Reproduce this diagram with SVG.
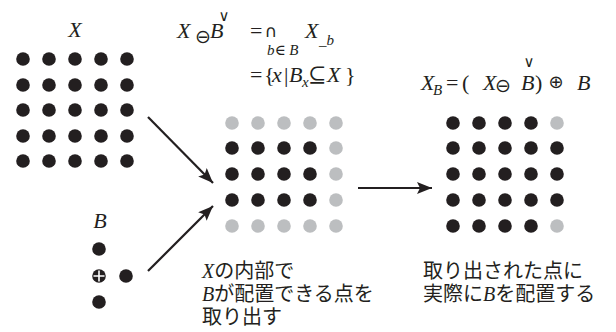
<svg xmlns="http://www.w3.org/2000/svg" width="616" height="332" viewBox="0 0 616 332">
<defs>
<style>
.k{fill:#231f20}
.g{fill:#bcbec0}
.m{font-family:"Liberation Serif","DejaVu Serif",serif;font-size:22px;fill:#231f20}
.i{font-style:italic}
.s{font-family:"Liberation Serif","DejaVu Serif",serif;font-size:15px;fill:#231f20}
.sym{font-family:"DejaVu Sans",sans-serif;fill:#231f20}
.jp{font-family:"Noto Sans CJK JP","Noto Sans",sans-serif;font-size:20px;fill:#231f20}
.jv{font-family:"Liberation Serif",serif;font-style:italic}
.ln{stroke:#231f20;stroke-width:2.2;fill:none}
</style>
<marker id="ah" markerUnits="userSpaceOnUse" markerWidth="16" markerHeight="12" refX="15" refY="6" orient="auto">
<path d="M0,0 L15,6 L0,12 L3,6 Z" fill="#231f20"/>
</marker>
<circle id="d" r="6.8"/>
</defs>
<rect width="616" height="332" fill="#ffffff"/>

<g id="X-label"><text class="m i" x="75" y="37" text-anchor="middle" font-size="19">X</text></g>

<g id="X-set" class="k">
<use href="#d" x="23" y="59"/><use href="#d" x="49" y="59"/><use href="#d" x="75" y="59"/><use href="#d" x="101" y="59"/><use href="#d" x="127" y="59"/>
<use href="#d" x="23" y="85"/><use href="#d" x="49" y="85"/><use href="#d" x="75" y="85"/><use href="#d" x="101" y="85"/><use href="#d" x="127" y="85"/>
<use href="#d" x="23" y="110"/><use href="#d" x="49" y="110"/><use href="#d" x="75" y="110"/><use href="#d" x="101" y="110"/><use href="#d" x="127" y="110"/>
<use href="#d" x="23" y="136"/><use href="#d" x="49" y="136"/><use href="#d" x="75" y="136"/><use href="#d" x="101" y="136"/><use href="#d" x="127" y="136"/>
<use href="#d" x="23" y="161"/><use href="#d" x="49" y="161"/><use href="#d" x="75" y="161"/><use href="#d" x="101" y="161"/><use href="#d" x="127" y="161"/>
</g>

<g id="B-label"><text class="m i" x="100" y="228" text-anchor="middle" font-size="19">B</text></g>

<g id="B-set">
<use href="#d" class="k" x="99" y="249"/>
<use href="#d" class="k" x="99" y="276"/>
<path d="M93.5,276 H104.5 M99,270.5 V281.5" stroke="#ffffff" stroke-width="1.6"/>
<use href="#d" class="k" x="126" y="276"/>
<use href="#d" class="k" x="99" y="302"/>
</g>

<g id="erosion-formula">
<text class="m i" x="177" y="38">X</text>
<text class="sym" x="203" y="43" font-size="19" text-anchor="middle">⊖</text>
<text class="m i" x="210" y="38">B</text>
<text class="sym" x="224" y="21" font-size="15" text-anchor="middle">∨</text>
<text class="m" x="250" y="38">=</text>
<text class="sym" x="271" y="37" font-size="17" text-anchor="middle">∩</text>
<text class="s" x="267" y="55"><tspan class="i">b</tspan>∈ <tspan class="i">B</tspan></text>
<text class="m i" x="305" y="38">X</text>
<text class="s i" x="319" y="45">_b</text>
<text class="m" x="250" y="82">=</text>
<text class="m" x="264" y="82">{</text>
<text class="m i" x="272" y="82">x</text>
<text class="m" x="284" y="82">|</text>
<text class="m i" x="289" y="82">B</text>
<text class="s i" x="302" y="87">x</text>
<text class="m" x="308" y="82">⊆</text>
<text class="m i" x="327" y="82">X</text>
<text class="m" x="345" y="82">}</text>
</g>

<g id="opening-formula">
<text class="m i" x="421" y="90">X</text>
<text class="s i" x="433" y="95">B</text>
<text class="m" x="446" y="90">=</text>
<text class="m" x="462" y="90">(</text>
<text class="m i" x="483" y="90">X</text>
<text class="sym" x="503" y="92" font-size="19" text-anchor="middle">⊖</text>
<text class="m i" x="521" y="90">B</text>
<text class="sym" x="529" y="67" font-size="15" text-anchor="middle">∨</text>
<text class="m" x="535" y="90">)</text>
<text class="sym" x="556" y="88" font-size="18" text-anchor="middle">⊕</text>
<text class="m i" x="577" y="90">B</text>
</g>

<g id="eroded-set">
<g class="g"><use href="#d" x="232" y="123"/><use href="#d" x="258" y="123"/><use href="#d" x="284" y="123"/><use href="#d" x="310" y="123"/><use href="#d" x="336" y="123"/></g>
<g class="k"><use href="#d" x="232" y="148"/><use href="#d" x="258" y="148"/><use href="#d" x="284" y="148"/><use href="#d" x="310" y="148"/></g>
<use href="#d" class="g" x="336" y="148"/>
<g class="k"><use href="#d" x="232" y="174"/><use href="#d" x="258" y="174"/><use href="#d" x="284" y="174"/><use href="#d" x="310" y="174"/></g>
<use href="#d" class="g" x="336" y="174"/>
<g class="k"><use href="#d" x="232" y="200"/><use href="#d" x="258" y="200"/><use href="#d" x="284" y="200"/><use href="#d" x="310" y="200"/></g>
<use href="#d" class="g" x="336" y="200"/>
<g class="g"><use href="#d" x="232" y="226"/><use href="#d" x="258" y="226"/><use href="#d" x="284" y="226"/><use href="#d" x="310" y="226"/><use href="#d" x="336" y="226"/></g>
</g>

<g id="opened-set">
<g class="k"><use href="#d" x="453" y="123"/><use href="#d" x="479" y="123"/><use href="#d" x="505" y="123"/><use href="#d" x="531" y="123"/></g>
<use href="#d" class="g" x="557" y="123"/>
<g class="k">
<use href="#d" x="453" y="148"/><use href="#d" x="479" y="148"/><use href="#d" x="505" y="148"/><use href="#d" x="531" y="148"/><use href="#d" x="557" y="148"/>
<use href="#d" x="453" y="174"/><use href="#d" x="479" y="174"/><use href="#d" x="505" y="174"/><use href="#d" x="531" y="174"/><use href="#d" x="557" y="174"/>
<use href="#d" x="453" y="200"/><use href="#d" x="479" y="200"/><use href="#d" x="505" y="200"/><use href="#d" x="531" y="200"/><use href="#d" x="557" y="200"/>
<use href="#d" x="453" y="226"/><use href="#d" x="479" y="226"/><use href="#d" x="505" y="226"/><use href="#d" x="531" y="226"/>
</g>
<use href="#d" class="g" x="557" y="226"/>
</g>

<g id="connectors">
<line class="ln" x1="148" y1="117" x2="213" y2="183" marker-end="url(#ah)"/>
<line class="ln" x1="148" y1="271" x2="213" y2="206" marker-end="url(#ah)"/>
<line class="ln" x1="358" y1="188" x2="432" y2="188" marker-end="url(#ah)"/>
</g>

<g id="caption-left">
<text class="jp" x="202" y="278"><tspan class="jv">X</tspan>の内部で</text>
<text class="jp" x="202" y="301"><tspan class="jv">B</tspan>が配置できる点を</text>
<text class="jp" x="202" y="324">取り出す</text>
</g>
<g id="caption-right">
<text class="jp" x="423" y="278">取り出された点に</text>
<text class="jp" x="423" y="301">実際に<tspan class="jv">B</tspan>を配置する</text>
</g>
</svg>
